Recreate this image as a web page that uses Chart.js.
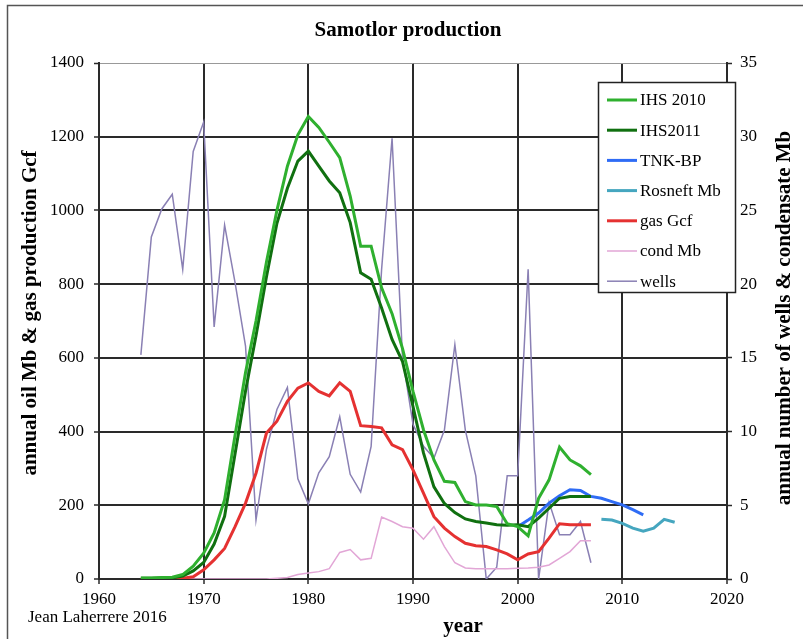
<!DOCTYPE html>
<html>
<head>
<meta charset="utf-8">
<script src="https://cdn.jsdelivr.net/npm/chart.js@4"></script>
<style>
  html, body { margin: 0; padding: 0; background: #fff; }
  #wrap { position: relative; width: 803px; height: 639px; overflow: hidden; }
</style>
</head>
<body>
<div id="wrap">
  <canvas id="c" width="803" height="639"></canvas>
</div>
<script>
const SERIF = '"Liberation Serif", "Times New Roman", serif';

// Annees du champ (IHS, gaz, condensat, puits)
const oilYears = [1964, 1965, 1966, 1967, 1968, 1969, 1970, 1971, 1972, 1973, 1974, 1975,
  1976, 1977, 1978, 1979, 1980, 1981, 1982, 1983, 1984, 1985, 1986, 1987, 1988, 1989,
  1990, 1991, 1992, 1993, 1994, 1995, 1996, 1997, 1998, 1999, 2000, 2001, 2002, 2003,
  2004, 2005, 2006, 2007];
const ihs2010 = [3, 3, 4, 5, 12, 35, 70, 125, 215, 390, 560, 700,
  860, 1000, 1120, 1205, 1255, 1225, 1185, 1143, 1039, 903, 903, 790, 720, 625,
  509, 405, 323, 265, 262, 210, 201, 201, 197, 150, 142, 117, 219, 269,
  358, 323, 307, 283];
const ihs2011 = [2, 2, 3, 3, 8, 22, 45, 95, 170, 340, 510, 660,
  820, 965, 1060, 1134, 1161, 1120, 1080, 1048, 967, 831, 813, 735, 650, 590,
  468, 342, 250, 205, 180, 163, 156, 152, 147, 146, 147, 142, 165, 192,
  219, 224, 224, 224];
const gasGcf = [0, 0, 0, 0, 2, 6, 25, 52, 83, 142, 206, 287,
  396, 428, 482, 518, 532, 509, 497, 532, 509, 416, 414, 410, 364, 351,
  296, 233, 169, 138, 115, 97, 90, 88, 79, 68, 52, 68, 74, 111,
  150, 147, 147, 147];
const condMb = [0, 0, 0, 0, 0, 0, 0, 0, 0, 0, 0, 0,
  0, 0.05, 0.1, 0.3, 0.4, 0.5, 0.7, 1.8, 2.0, 1.3, 1.4, 4.2, 3.9, 3.55,
  3.45, 2.7, 3.55, 2.2, 1.1, 0.75, 0.7, 0.7, 0.7, 0.7, 0.73, 0.75, 0.8, 0.95,
  1.4, 1.86, 2.6, 2.6];
const wells = [15.2, 23.2, 25.1, 26.1, 21.0, 29.0, 31.0, 17.1, 24.0, 20.1, 15.8, 4.0,
  8.8, 11.5, 13.0, 6.8, 5.1, 7.2, 8.3, 11.0, 7.1, 5.9, 9.0, 21.0, 29.9, 15.0,
  10.5, 9.0, 8.2, 10.1, 15.9, 10.1, 7.0, 0.0, 0.8, 7.0, 7.0, 21.0, 0.0, 5.2,
  3.0, 3.0, 3.9, 1.1];

const tnkYears = [2000, 2001, 2002, 2003, 2004, 2005, 2006, 2007, 2008, 2009, 2010, 2011, 2012];
const tnkBp = [142, 160, 179, 206, 226, 242, 240, 224, 219, 210, 201, 188, 174];

const rosneftYears = [2008, 2009, 2010, 2011, 2012, 2013, 2014, 2015];
const rosneftMb = [162, 160, 151, 138, 130, 138, 162, 154];

const xTicks = [1960, 1970, 1980, 1990, 2000, 2010, 2020];

function pts(xs, ys) {
  return xs.map((x, i) => ({ x, y: ys[i] }));
}

function line(label, xs, ys, color, width, axis) {
  return {
    label, data: pts(xs, ys), borderColor: color, backgroundColor: color,
    borderWidth: width, pointRadius: 0, tension: 0, fill: false, yAxisID: axis,
  };
}

// ─── Textes (titres, legende, auteur) ───────────────────────────────────────

function drawLegend(chart, c) {
  const x0 = 598.5, y0 = 82.5, w = 137, h = 210;
  c.fillStyle = '#fff';
  c.fillRect(x0, y0, w, h);
  c.strokeStyle = '#222';
  c.lineWidth = 1.5;
  c.strokeRect(x0, y0, w, h);
  c.font = `17px ${SERIF}`;
  c.textAlign = 'left';
  c.textBaseline = 'middle';
  chart.data.datasets.forEach((d, i) => {
    const y = 100 + i * 30.2;
    c.strokeStyle = d.borderColor;
    c.lineWidth = d.borderWidth;
    c.beginPath();
    c.moveTo(607, y); c.lineTo(637, y);
    c.stroke();
    c.fillStyle = '#000';
    c.fillText(d.label, 640, y + 1);
  });
}

const textPlugin = {
  id: 'texts',
  beforeDraw(chart) {
    const c = chart.ctx;
    c.save();
    c.fillStyle = '#fff';
    c.fillRect(0, 0, chart.width, chart.height);
    c.strokeStyle = '#555';
    c.lineWidth = 1.5;
    c.beginPath();
    c.moveTo(7.5, 639); c.lineTo(7.5, 5.5); c.lineTo(803, 5.5);
    c.stroke();
    c.restore();
  },
  afterDraw(chart) {
    const c = chart.ctx;
    c.save();
    c.fillStyle = '#000';
    c.textAlign = 'center';
    c.textBaseline = 'middle';
    c.font = `bold 21px ${SERIF}`;
    c.fillText('Samotlor production', 408, 31);
    c.fillText('year', 463, 627);

    c.save();
    c.translate(31, 313);
    c.rotate(-Math.PI / 2);
    c.fillText('annual oil Mb & gas production Gcf', 0, 0);
    c.restore();

    c.save();
    c.translate(785, 318);
    c.rotate(-Math.PI / 2);
    c.fillText('annual number of wells & condensate Mb', 0, 0);
    c.restore();

    c.font = `17px ${SERIF}`;
    c.textAlign = 'left';
    c.fillText('Jean Laherrere 2016', 28, 618);

    drawLegend(chart, c);
    c.restore();
  },
};

const tickFont = { family: SERIF, size: 17 };

const chart = new Chart(document.getElementById('c'), {
  type: 'line',
  data: {
    datasets: [
      line('IHS 2010', oilYears, ihs2010, '#2fb02f', 3, 'y'),
      line('IHS2011', oilYears, ihs2011, '#107010', 3, 'y'),
      line('TNK-BP', tnkYears, tnkBp, '#2f6cf5', 3, 'y'),
      line('Rosneft Mb', rosneftYears, rosneftMb, '#45a6bf', 3, 'y'),
      line('gas Gcf', oilYears, gasGcf, '#e53131', 3, 'y'),
      line('cond Mb', oilYears, condMb, '#e2a6d6', 1.5, 'y2'),
      line('wells', oilYears, wells, '#8a80b4', 1.5, 'y2'),
    ],
  },
  options: {
    responsive: false,
    animation: false,
    layout: { padding: { top: 63, left: 0, right: 0, bottom: 0 } },
    plugins: {
      legend: { display: false },
      title: { display: false },
      tooltip: { enabled: false },
    },
    scales: {
      x: {
        type: 'linear', min: 1960, max: 2020,
        afterBuildTicks: s => { s.ticks = xTicks.map(v => ({ value: v })); },
        afterFit: s => { s.height = 60; },
        ticks: { font: tickFont, color: '#000', padding: 5, maxRotation: 0, callback: v => String(v) },
        grid: { color: '#2a2a2a', lineWidth: 2, tickLength: 5, tickColor: '#2a2a2a', tickWidth: 1.5 },
        border: { color: '#2a2a2a', width: 2 },
      },
      y: {
        position: 'left', min: 0, max: 1400,
        afterFit: s => { s.width = 99; },
        ticks: { stepSize: 200, font: tickFont, color: '#000', padding: 10, callback: v => String(v) },
        grid: {
          color: ctx => ctx.tick && ctx.tick.value === 1400 ? '#999' : '#2a2a2a',
          lineWidth: ctx => ctx.tick && ctx.tick.value === 1400 ? 1 : 2,
          tickLength: 5, tickColor: '#2a2a2a', tickWidth: 1.5,
        },
        border: { color: '#2a2a2a', width: 2 },
      },
      y2: {
        position: 'right', min: 0, max: 35,
        afterFit: s => { s.width = 76; },
        ticks: { stepSize: 5, font: tickFont, color: '#000', padding: 8, callback: v => String(v) },
        grid: { drawOnChartArea: false, tickLength: 5, tickColor: '#2a2a2a', tickWidth: 1.5 },
        border: { color: '#2a2a2a', width: 2 },
      },
    },
  },
  plugins: [textPlugin],
});
</script>
</body>
</html>
